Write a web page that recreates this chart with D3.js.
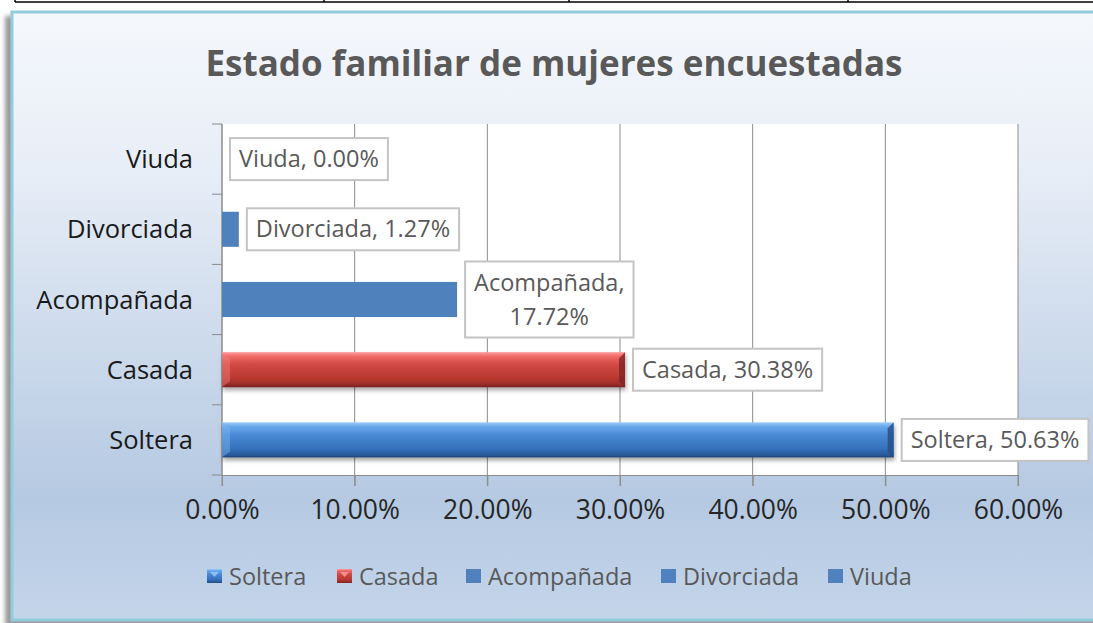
<!DOCTYPE html>
<html lang="es">
<head>
<meta charset="UTF-8">
<title>Estado familiar de mujeres encuestadas</title>
<script src="https://d3js.org/d3.v7.min.js"></script>
<style>
    body { margin: 0; background: #ffffff; }
    svg text { font-family: "Open Sans", "Noto Sans", sans-serif; }
    .grid line { stroke: #8c8c8c; stroke-width: 1px; }
    .lbl-box { fill: #ffffff; stroke: #c4c4c4; stroke-width: 2px; }
    .lbl-text { fill: #595959; font-size: 23.5px; }
</style>
</head>
<body>
<svg id="canvas" width="1093" height="623"></svg>
<script>
    // data
    let categories = ["Soltera", "Casada", "Acompañada", "Divorciada", "Viuda"];
    let values = [50.63, 30.38, 17.72, 1.27, 0.00];
    let xTicks = [0, 10, 20, 30, 40, 50, 60];
    let title = "Estado familiar de mujeres encuestadas";

    let svg = d3.select("#canvas");
    let defs = svg.append("defs");

    // gradients
    let bg = defs.append("linearGradient").attr("id", "bg").attr("x1", 0).attr("y1", 0).attr("x2", 0).attr("y2", 1);
    bg.append("stop").attr("offset", "0%").attr("stop-color", "#f5f8fc");
    bg.append("stop").attr("offset", "25%").attr("stop-color", "#e8eef7");
    bg.append("stop").attr("offset", "80%").attr("stop-color", "#b5c9e2");
    bg.append("stop").attr("offset", "100%").attr("stop-color", "#c4d5ea");

    let blueG = defs.append("linearGradient").attr("id", "blue3d").attr("x1", 0).attr("y1", 0).attr("x2", 0).attr("y2", 1);
    [["0%", "#9ccaf8"], ["12%", "#6aa8ec"], ["35%", "#4a8ad6"], ["75%", "#3670bb"], ["92%", "#2a5a9c"], ["100%", "#1f4677"]]
        .forEach(function (s) { blueG.append("stop").attr("offset", s[0]).attr("stop-color", s[1]); });
    let redG = defs.append("linearGradient").attr("id", "red3d").attr("x1", 0).attr("y1", 0).attr("x2", 0).attr("y2", 1);
    [["0%", "#ff9c9c"], ["12%", "#f06a66"], ["35%", "#d24a45"], ["75%", "#b9382f"], ["92%", "#9a2c28"], ["100%", "#742020"]]
        .forEach(function (s) { redG.append("stop").attr("offset", s[0]).attr("stop-color", s[1]); });

    let shadow = defs.append("filter").attr("id", "shadow").attr("x", "-5%").attr("y", "-30%").attr("width", "110%").attr("height", "170%");
    shadow.append("feDropShadow").attr("dx", 1).attr("dy", 3).attr("stdDeviation", 2).attr("flood-color", "#000").attr("flood-opacity", 0.35);
    let blur = defs.append("filter").attr("id", "blur");
    blur.append("feGaussianBlur").attr("stdDeviation", 2);

    // table lines above the chart
    svg.append("line").attr("x1", 15).attr("x2", 1093).attr("y1", 2).attr("y2", 2).attr("stroke", "#000").attr("stroke-width", 1.5);
    [15, 324, 569, 848].forEach(function (x) {
        svg.append("line").attr("x1", x).attr("x2", x).attr("y1", 0).attr("y2", 2).attr("stroke", "#000").attr("stroke-width", 1.5);
    });

    // chart frame
    svg.append("rect").attr("x", 5).attr("y", 16).attr("width", 1100).attr("height", 610)
        .attr("fill", "#9a9a9a").attr("filter", "url(#blur)");
    svg.append("rect").attr("x", 12).attr("y", 12).attr("width", 1100).attr("height", 608)
        .attr("fill", "url(#bg)").attr("stroke", "#93cddd").attr("stroke-width", 3);

    // title
    svg.append("text").attr("x", 554).attr("y", 76).attr("text-anchor", "middle")
        .attr("font-size", 35).attr("font-weight", "bold").attr("fill", "#595959").text(title);

    // plot area
    let plot = { left: 222, right: 1018, top: 124, bottom: 475 };
    let xScale = d3.scaleLinear().domain([0, 60]).range([plot.left, plot.right]);
    let yScale = d3.scaleBand().domain(categories.slice().reverse()).range([plot.top, plot.bottom])
        .paddingInner(0.5).paddingOuter(0.25);

    svg.append("rect").attr("x", plot.left).attr("y", plot.top)
        .attr("width", plot.right - plot.left).attr("height", plot.bottom - plot.top).attr("fill", "#ffffff");

    svg.append("g").attr("class", "grid").selectAll("line")
        .data(xTicks).enter().append("line")
        .attr("x1", function (d) { return xScale(d); }).attr("x2", function (d) { return xScale(d); })
        .attr("y1", plot.top).attr("y2", plot.bottom + 11);

    // axes
    let xAxis = svg.append("g").attr("transform", "translate(0," + plot.bottom + ")")
        .call(d3.axisBottom(xScale).tickValues(xTicks).tickSize(11).tickPadding(14)
            .tickFormat(function (d) { return d3.format(".2f")(d) + "%"; }));
    xAxis.select(".domain").attr("stroke", "#8c8c8c");
    xAxis.selectAll(".tick line").attr("stroke", "#8c8c8c");
    xAxis.selectAll("text").attr("font-size", 26.5).attr("fill", "#262626")
        .attr("font-family", "'Open Sans', sans-serif");

    let catBounds = d3.range(categories.length + 1).map(function (i) {
        return plot.top + i * (plot.bottom - plot.top) / categories.length;
    });
    svg.append("line").attr("x1", plot.left).attr("x2", plot.left).attr("y1", plot.top).attr("y2", plot.bottom)
        .attr("stroke", "#8c8c8c");
    svg.append("g").selectAll("line").data(catBounds).enter().append("line")
        .attr("x1", plot.left - 10).attr("x2", plot.left)
        .attr("y1", function (d) { return d; }).attr("y2", function (d) { return d; })
        .attr("stroke", "#8c8c8c");
    svg.append("g").selectAll("text").data(categories).enter().append("text")
        .attr("x", 193)
        .attr("y", function (d) { return yScale(d) + yScale.bandwidth() / 2 + 9; })
        .attr("text-anchor", "end").attr("font-size", 25.5).attr("fill", "#1a1a1a")
        .text(function (d) { return d; });

    // bars
    let barFill = function (i) { return i === 0 ? "url(#blue3d)" : (i === 1 ? "url(#red3d)" : "#4f81bd"); };
    let bars = svg.append("g");
    categories.forEach(function (c, i) {
        let w = xScale(values[i]) - xScale(0);
        if (w <= 0) return;
        let y = yScale(c), h = yScale.bandwidth();
        let g = bars.append("g");
        if (i < 2) {
            g.attr("filter", "url(#shadow)");
            g.append("rect").attr("x", xScale(0)).attr("y", y).attr("width", w).attr("height", h).attr("fill", barFill(i));
            // bevelled ends
            let dark = i === 0 ? "#234d85" : "#7f2424";
            let light = i === 0 ? "#7fb6ef" : "#f08080";
            g.append("path").attr("d", "M" + xScale(0) + "," + y + "l8,6l0," + (h - 12) + "l-8,6z")
                .attr("fill", light).attr("opacity", 0.45);
            g.append("path").attr("d", "M" + (xScale(0) + w) + "," + y + "l-6,6l0," + (h - 12) + "l6,6z")
                .attr("fill", dark).attr("opacity", 0.8);
        } else {
            g.append("rect").attr("x", xScale(0)).attr("y", y).attr("width", w).attr("height", h).attr("fill", barFill(i));
        }
    });

    // data labels
    let labels = svg.append("g");
    categories.forEach(function (c, i) {
        let twoLines = i === 2;
        let x0 = xScale(values[i]) + 8;
        let cy = yScale(c) + yScale.bandwidth() / 2;
        let g = labels.append("g");
        let box = g.append("rect").attr("class", "lbl-box");
        let lines = twoLines ? [c + ",", d3.format(".2f")(values[i]) + "%"] : [c + ", " + d3.format(".2f")(values[i]) + "%"];
        let lh = 34;
        let texts = g.selectAll("text").data(lines).enter().append("text").attr("class", "lbl-text")
            .attr("text-anchor", "middle")
            .attr("y", function (d, k) { return cy + 8 + (k - (lines.length - 1) / 2) * lh; })
            .text(function (d) { return d; });
        let tw = d3.max(texts.nodes(), function (n) { return n.getComputedTextLength(); });
        let bw = tw + 18, bh = 42 + (lines.length - 1) * lh;
        texts.attr("x", x0 + bw / 2);
        box.attr("x", x0).attr("y", cy - bh / 2).attr("width", bw).attr("height", bh);
    });

    // legend
    let legX = [207, 337, 466, 661, 828];
    let legend = svg.append("g");
    categories.forEach(function (c, i) {
        let g = legend.append("g").attr("transform", "translate(" + legX[i] + ",569)");
        g.append("rect").attr("width", 15).attr("height", 14).attr("fill", barFill(i));
        if (i < 2) {
            g.append("path").attr("d", "M3,3l9,0l-4.5,5z").attr("fill", i === 0 ? "#9ccaf8" : "#ff9c9c").attr("opacity", 0.8);
        }
        g.append("text").attr("x", 22).attr("y", 16).attr("font-size", 23.5).attr("fill", "#595959").text(c);
    });
</script>
</body>
</html>
